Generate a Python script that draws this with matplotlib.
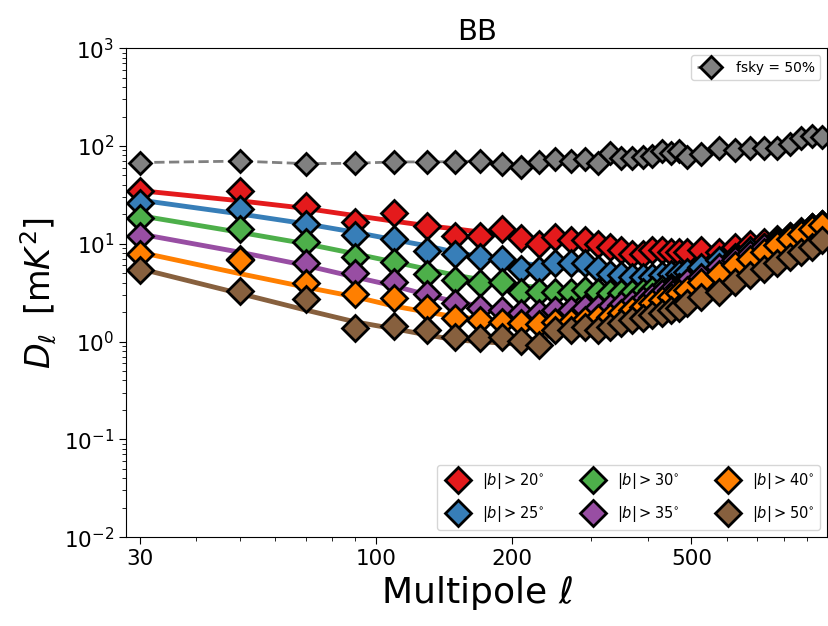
import matplotlib
matplotlib.use("Agg")
import matplotlib.pyplot as plt
from matplotlib.ticker import FixedLocator, FixedFormatter

# multipole bin centres
ell = [30, 50, 70, 90, 110, 130, 150, 170, 190, 210, 230, 250, 270, 290, 310,
       330, 350, 370, 390, 410, 430, 450, 470, 490,
       525, 575, 625, 675, 725, 775, 825, 875, 925, 975]

# fsky = 50% reference spectrum
dl_fsky50 = [67.7, 70, 66, 66.6, 68.7, 68.7, 69.2, 70.3, 66, 61.6, 69, 73, 70, 73, 67.6,
             85.5, 76, 76, 77.3, 79, 89, 84, 89, 77,
             83.5, 94.7, 91, 96, 96, 96, 104, 121, 126, 123]

# measured D_ell for each latitude cut
dl_b20 = [34.3, 34.3, 24.5, 16.6, 20.5, 15.3, 12.1, 12.1, 14.2, 11.5, 10.0, 11.7, 10.8, 10.8, 10.0,
          9.25, 8.55, 7.9, 7.8, 8.55, 8.55, 8.2, 8.2, 8.2,
          8.55, 8.2, 9.25, 10.0, 10.4, 11.2, 12.1, 13.1, 14.8, 16.0]
dl_b25 = [25.9, 22.7, 16.0, 12.4, 11.2, 8.5, 7.9, 7.3, 7.0, 5.57, 5.35, 6.3, 6.3, 6.3, 5.57,
          4.95, 4.77, 4.57, 4.57, 4.57, 4.77, 4.95, 4.95, 5.14,
          5.78, 6.76, 7.3, 8.55, 9.25, 10.4, 11.7, 13.1, 14.8, 16.0]
dl_b30 = [18.4, 14.2, 10.4, 7.3, 6.5, 4.95, 4.24, 4.0, 4.06, 3.22, 3.22, 3.22, 3.22, 3.35, 3.22,
          3.15, 3.1, 3.1, 3.22, 3.35, 3.48, 3.62, 3.62, 3.77,
          4.24, 4.77, 5.57, 7.3, 8.2, 10.0, 11.7, 13.1, 14.2, 15.7]
dl_b35 = [12.1, 7.0, 6.3, 5.07, 4.06, 3.05, 2.45, 2.18, 2.1, 1.94, 1.94, 2.1, 2.1, 2.18, 2.18,
          2.27, 2.36, 2.45, 2.65, 2.86, 3.1, 3.35, 3.62, 4.06,
          4.57, 5.78, 6.76, 7.9, 9.25, 10.4, 12.1, 13.6, 14.8, 16.0]
dl_b40 = [7.8, 6.76, 4.0, 3.05, 2.82, 2.18, 1.73, 1.66, 1.6, 1.53, 1.51, 1.6, 1.6, 1.66, 1.73,
          1.79, 1.94, 2.1, 2.27, 2.45, 2.65, 2.86, 3.1, 3.35,
          4.06, 4.95, 6.0, 7.0, 8.2, 9.6, 11.2, 12.6, 14.2, 15.4]
dl_b50 = [5.35, 3.3, 2.7, 1.36, 1.44, 1.31, 1.11, 1.08, 1.11, 1.02, 0.92, 1.31, 1.31, 1.42, 1.31,
          1.42, 1.53, 1.66, 1.73, 1.86, 1.97, 2.1, 2.18, 2.45,
          2.86, 3.22, 4.06, 4.77, 5.57, 6.3, 7.3, 8.2, 9.25, 10.8]

# fitted model curves, sampled at a few multipoles
ell_fit = [30, 50, 70, 90, 110, 130, 150, 200, 300, 400, 500, 700, 1000]
fit_b20 = [35, 27.5, 23, 19.4, 17, 15.3, 14.2, 12, 9.8, 8.8, 8.6, 10, 15]
fit_b25 = [28, 20.2, 16, 13.1, 11, 9.5, 8.2, 6.5, 5.2, 4.9, 5.2, 7, 14]
fit_b30 = [19.4, 13.1, 10, 7.9, 6.5, 5.5, 4.77, 3.8, 3.2, 3.3, 3.9, 6, 14]
fit_b35 = [12.6, 8.2, 6.0, 4.57, 3.7, 3.0, 2.55, 2.05, 2.2, 2.7, 3.5, 6.5, 15]
fit_b40 = [8.2, 4.95, 3.6, 2.87, 2.3, 2.0, 1.79, 1.6, 1.8, 2.4, 3.3, 6.2, 15]
fit_b50 = [5.57, 3.1, 2.1, 1.59, 1.35, 1.17, 1.04, 0.95, 1.4, 2.0, 2.7, 4.6, 11]

labels = [r"$|b|>20^{\circ}$", r"$|b|>25^{\circ}$", r"$|b|>30^{\circ}$",
          r"$|b|>35^{\circ}$", r"$|b|>40^{\circ}$", r"$|b|>50^{\circ}$"]
colors = ["#e41a1c", "#377eb8", "#4daf4a", "#984ea3", "#ff7f00", "#87603e"]

data = [dl_b20, dl_b25, dl_b30, dl_b35, dl_b40, dl_b50]
fits = [fit_b20, fit_b25, fit_b30, fit_b35, fit_b40, fit_b50]

fig = plt.figure(figsize=(8.29, 6.26), dpi=100)
ax = fig.add_axes([0.152, 0.142, 0.846, 0.781])

# reference spectrum
ref, = ax.plot(ell, dl_fsky50, "--", color="#808080", lw=2, marker="D", ms=11,
               mfc="#808080", mec="k", mew=2, label="fsky = 50%", zorder=2)

# fitted curves below the markers
for fit, c in zip(fits, colors):
    ax.plot(ell_fit, fit, "-", color=c, lw=3.5, zorder=2)

handles = []
for dl, c, lab in zip(data, colors, labels):
    h, = ax.plot(ell, dl, ls="none", marker="D", ms=13, mfc=c, mec="k", mew=2,
                 label=lab, zorder=3)
    handles.append(h)

ax.set_xscale("log")
ax.set_yscale("log")
ax.set_xlim(28, 1000)
ax.set_ylim(1e-2, 1e3)

ax.xaxis.set_major_locator(FixedLocator([30, 100, 200, 500]))
ax.xaxis.set_major_formatter(FixedFormatter(["30", "100", "200", "500"]))
ax.xaxis.set_minor_formatter(FixedFormatter([]))
ax.tick_params(axis="both", which="major", labelsize=15.5, length=5)
ax.tick_params(axis="both", which="minor", length=3)

ax.set_title("BB", fontsize=21)
ax.set_xlabel(r"Multipole $\ell$", fontsize=26)
ax.set_ylabel(r"$D_\ell\;\;[\mathrm{m}K^2]$", fontsize=24)

leg1 = ax.legend(handles=[ref], loc="upper right", fontsize=10)
ax.add_artist(leg1)
ax.legend(handles=handles, loc="lower right", ncol=3, fontsize=10.5,
          columnspacing=2.3, handletextpad=0.65, labelspacing=0.9)

fig.savefig("out.png", dpi=100)
